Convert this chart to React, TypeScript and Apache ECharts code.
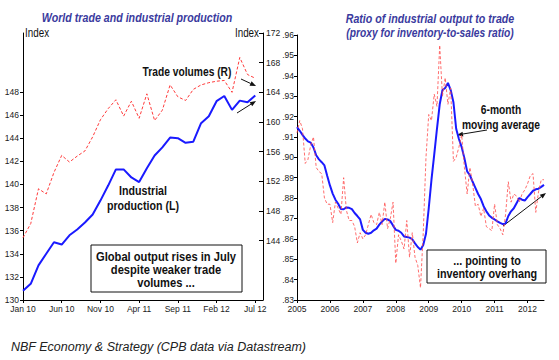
import React, { useEffect, useRef } from 'react';
import * as echarts from 'echarts';

// ---------- Left chart data ----------
const leftMonths = ['Jan 10','Feb 10','Mar 10','Apr 10','May 10','Jun 10','Jul 10','Aug 10','Sep 10','Oct 10','Nov 10','Dec 10','Jan 11','Feb 11','Mar 11','Apr 11','May 11','Jun 11','Jul 11','Aug 11','Sep 11','Oct 11','Nov 11','Dec 11','Jan 12','Feb 12','Mar 12','Apr 12','May 12','Jun 12','Jul 12','Aug 12'];
const industrialProduction = [130.8, 131.4, 133.0, 134.0, 135.0, 134.8, 135.6, 136.1, 136.7, 137.4, 138.6, 139.9, 141.3, 141.3, 140.6, 140.2, 141.4, 142.5, 143.2, 144.05, 144.0, 143.6, 143.7, 145.3, 145.9, 147.2, 147.65, 146.45, 147.25, 147.1, 147.7];
const tradeVolumes = [144.4, 146.3, 151.0, 150.3, 153.2, 155.5, 154.6, 155.4, 156.1, 158.0, 160.3, 161.8, 163.0, 160.8, 162.8, 160.5, 163.8, 160.2, 161.6, 165.0, 163.4, 162.9, 164.4, 165.0, 165.3, 165.5, 165.6, 164.0, 168.7, 166.4, 165.9];
const leftTicks = [130, 132, 134, 136, 138, 140, 142, 144, 146, 148];
const rightTicks = [144, 148, 152, 156, 160, 164, 168, 172];

// ---------- Right chart data ----------
const ratioYears = ['2005','2006','2007','2008','2009','2010','2011','2012'];
const monthCodes = ['01','02','03','04','05','06','07','08','09','10','11','12'];
const ratioMonths: string[] = [];
ratioYears.forEach((y) => monthCodes.forEach((m) => ratioMonths.push(y + '-' + m)));
ratioMonths.splice(91);
const ratioRaw = [
  0.912, 0.918, 0.914, 0.897, 0.899, 0.906, 0.910, 0.895, 0.893, 0.892, 0.880, 0.877,
  0.877, 0.868, 0.878, 0.875, 0.872, 0.890, 0.874, 0.869, 0.869, 0.866, 0.858, 0.863,
  0.860, 0.862, 0.867, 0.872, 0.868, 0.867, 0.873, 0.867, 0.878, 0.865, 0.870, 0.878,
  0.848, 0.862, 0.859, 0.855, 0.869, 0.851, 0.863, 0.851, 0.847, 0.836, 0.863, 0.900,
  0.921, 0.918, 0.931, 0.925, 0.955, 0.930, 0.939, 0.926, 0.934, 0.898, 0.900, 0.905,
  0.911, 0.895, 0.882, 0.895, 0.887, 0.876, 0.877, 0.871, 0.875, 0.866, 0.865, 0.864,
  0.877, 0.867, 0.865, 0.862, 0.872, 0.888, 0.878, 0.882, 0.881, 0.878, 0.882, 0.884,
  0.887, 0.891, 0.892, 0.873, 0.883, 0.889, 0.889
];
const ratioMA = [
  0.9148, 0.9130, 0.9110, 0.9092, 0.9078, 0.9072, 0.9048, 0.9010, 0.8990, 0.8976, 0.8960, 0.8910,
  0.8862, 0.8822, 0.8792, 0.8772, 0.8746, 0.8745, 0.8754, 0.8752, 0.8746, 0.8727, 0.8712, 0.8695,
  0.8644, 0.8630, 0.8625, 0.8630, 0.8642, 0.8650, 0.8670, 0.8685, 0.8698, 0.8695, 0.8687, 0.8665,
  0.8644, 0.8640, 0.8630, 0.8612, 0.8609, 0.8606, 0.8598, 0.8578, 0.8560, 0.8547, 0.8570, 0.8625,
  0.8750, 0.8890, 0.9013, 0.9140, 0.9260, 0.9330, 0.9340, 0.9365, 0.9330, 0.9270, 0.9140, 0.9090,
  0.9050, 0.8995, 0.8931, 0.8912, 0.8880, 0.8850, 0.8820, 0.8795, 0.8760, 0.8735, 0.8715, 0.8703,
  0.8695, 0.8686, 0.8678, 0.8672, 0.8676, 0.8712, 0.8735, 0.8750, 0.8775, 0.8800, 0.8792, 0.8788,
  0.8805, 0.8820, 0.8836, 0.8843, 0.8846, 0.8855, 0.8865
];

const FONT = '"Liberation Sans", Arial, sans-serif';
const TITLE_COLOR = '#3a3a9e';
const INK = '#111';

function arrow(x1: number, y1: number, x2: number, y2: number) {
  const dx = x2 - x1, dy = y2 - y1;
  const len = Math.hypot(dx, dy);
  const ux = dx / len, uy = dy / len;
  const L = 6, W = 2.4;
  const bx = x2 - ux * L, by = y2 - uy * L;
  return [
    { type: 'line', shape: { x1, y1, x2: bx, y2: by }, style: { stroke: INK, lineWidth: 1 } },
    { type: 'polygon', shape: { points: [[x2, y2], [bx - uy * W, by + ux * W], [bx + uy * W, by - ux * W]] }, style: { fill: INK } },
  ];
}

function txt(text: string, x: number, y: number, opts: any = {}) {
  return {
    type: 'text', x, y,
    scaleX: opts.sx ?? 0.82,
    style: {
      text,
      fill: opts.fill || INK,
      fontSize: opts.size || 13,
      fontWeight: opts.weight || 'bold',
      fontStyle: opts.style || 'normal',
      fontFamily: FONT,
      align: opts.align || 'center',
      verticalAlign: 'middle',
    },
  };
}

const axisLabelBase = { color: '#222', fontSize: 8.5, fontFamily: FONT };

export default function App() {
  const ref = useRef<HTMLDivElement>(null);
  useEffect(() => {
    document.body.style.margin = '0';
    if (!ref.current) return;
    const chart = echarts.init(ref.current, undefined, { renderer: 'svg' });
    const option: any = {
      animation: false,
      backgroundColor: '#fff',
      grid: [
        { left: 23, top: 33, width: 240, height: 267 },
        { left: 297, top: 35, width: 247, height: 265 },
      ],
      xAxis: [
        {
          gridIndex: 0, type: 'category', data: leftMonths, boundaryGap: false,
          axisLine: { lineStyle: { color: '#000', width: 1 } },
          axisTick: { interval: 4, length: 3, lineStyle: { color: '#000' } },
          axisLabel: { ...axisLabelBase, interval: 4, margin: 4 },
          splitLine: { show: false },
        },
        {
          gridIndex: 1, type: 'category', data: ratioMonths, boundaryGap: false,
          axisLine: { lineStyle: { color: '#000', width: 1 } },
          axisTick: { interval: 11, length: 3, lineStyle: { color: '#000' } },
          axisLabel: { ...axisLabelBase, interval: 11, margin: 4, formatter: (v: string) => v.slice(0, 4) },
          splitLine: { show: false },
        },
      ],
      yAxis: [
        {
          gridIndex: 0, type: 'value', position: 'left', min: 130, max: 153.1, interval: 2,
          axisLine: { show: true, lineStyle: { color: '#000', width: 1 } },
          axisTick: { show: true, length: 3, customValues: leftTicks, lineStyle: { color: '#000' } },
          axisLabel: { ...axisLabelBase, margin: 4, customValues: leftTicks, formatter: (v: number) => (v <= 148 ? String(v) : '') },
          splitLine: { show: false },
        },
        {
          gridIndex: 0, type: 'value', position: 'right', min: 136, max: 172, interval: 4,
          axisLine: { show: true, lineStyle: { color: '#000', width: 1 } },
          axisTick: { show: true, inside: true, length: 4, customValues: rightTicks, lineStyle: { color: '#000' } },
          axisLabel: { ...axisLabelBase, margin: 3, customValues: rightTicks, formatter: (v: number) => (v >= 144 ? String(v) : '') },
          splitLine: { show: false },
        },
        {
          gridIndex: 1, type: 'value', position: 'left', min: 0.83, max: 0.96, interval: 0.01,
          axisLine: { show: true, lineStyle: { color: '#000', width: 1 } },
          axisTick: { show: true, length: 3, lineStyle: { color: '#000' } },
          axisLabel: { ...axisLabelBase, margin: 3, formatter: (v: number) => v.toFixed(2).replace(/^0/, '') },
          splitLine: { show: false },
        },
      ],
      series: [
        {
          type: 'line', xAxisIndex: 0, yAxisIndex: 1, data: tradeVolumes, symbol: 'none',
          lineStyle: { color: '#ff3b3b', width: 1, type: [3, 2] },
        },
        {
          type: 'line', xAxisIndex: 0, yAxisIndex: 0, data: industrialProduction, symbol: 'none',
          lineStyle: { color: '#1a1aff', width: 2 },
        },
        {
          type: 'line', xAxisIndex: 1, yAxisIndex: 2, data: ratioMA, symbol: 'none',
          lineStyle: { color: '#1a1aff', width: 2 },
        },
        {
          type: 'line', xAxisIndex: 1, yAxisIndex: 2, data: ratioRaw, symbol: 'none',
          lineStyle: { color: '#ff4a4a', width: 1, type: [3, 2], opacity: 0.8 },
        },
      ],
      graphic: [
        txt('World trade and industrial production', 137, 18, { fill: TITLE_COLOR, style: 'italic' }),
        txt('Ratio of industrial output to trade', 430, 19, { fill: TITLE_COLOR, style: 'italic' }),
        txt('(proxy for inventory-to-sales ratio)', 430, 33, { fill: TITLE_COLOR, style: 'italic', size: 12.5 }),
        txt('Index', 25, 33, { weight: 'normal', size: 12, align: 'left' }),
        txt('Index', 259, 33, { weight: 'normal', size: 12, align: 'right' }),
        txt('Trade volumes (R)', 187, 72, { size: 12.5 }),
        ...arrow(241, 79, 256, 86),
        ...arrow(237, 113, 256, 101),
        txt('Industrial', 143, 191),
        txt('production (L)', 143, 206),
        { type: 'rect', shape: { x: 91, y: 245, width: 151, height: 47 }, style: { fill: '#fff', stroke: INK, lineWidth: 1 } },
        txt('Global output rises in July', 166, 256.5, { size: 12, sx: 0.93 }),
        txt('despite weaker trade', 166, 269.5, { size: 12, sx: 0.93 }),
        txt('volumes ...', 166, 282.5, { size: 12, sx: 0.93 }),
        txt('6-month', 501, 110, { size: 12.5 }),
        txt('moving average', 501, 125, { size: 12.5 }),
        ...arrow(487, 130, 457, 135),
        ...arrow(503, 226, 546, 193),
        { type: 'rect', shape: { x: 427, y: 250, width: 119, height: 33 }, style: { fill: '#fff', stroke: INK, lineWidth: 1 } },
        txt('... pointing to', 487, 260.5, { size: 12, sx: 0.9 }),
        txt('inventory overhang', 487, 273.5, { size: 12, sx: 0.9 }),
        txt('NBF Economy & Strategy (CPB data via Datastream)', 11, 347, { weight: 'normal', style: 'italic', size: 12.5, align: 'left', fill: '#222', sx: 1 }),
      ],
    };
    chart.setOption(option);
    return () => chart.dispose();
  }, []);
  return <div ref={ref} style={{ width: 559, height: 360 }} />;
}
